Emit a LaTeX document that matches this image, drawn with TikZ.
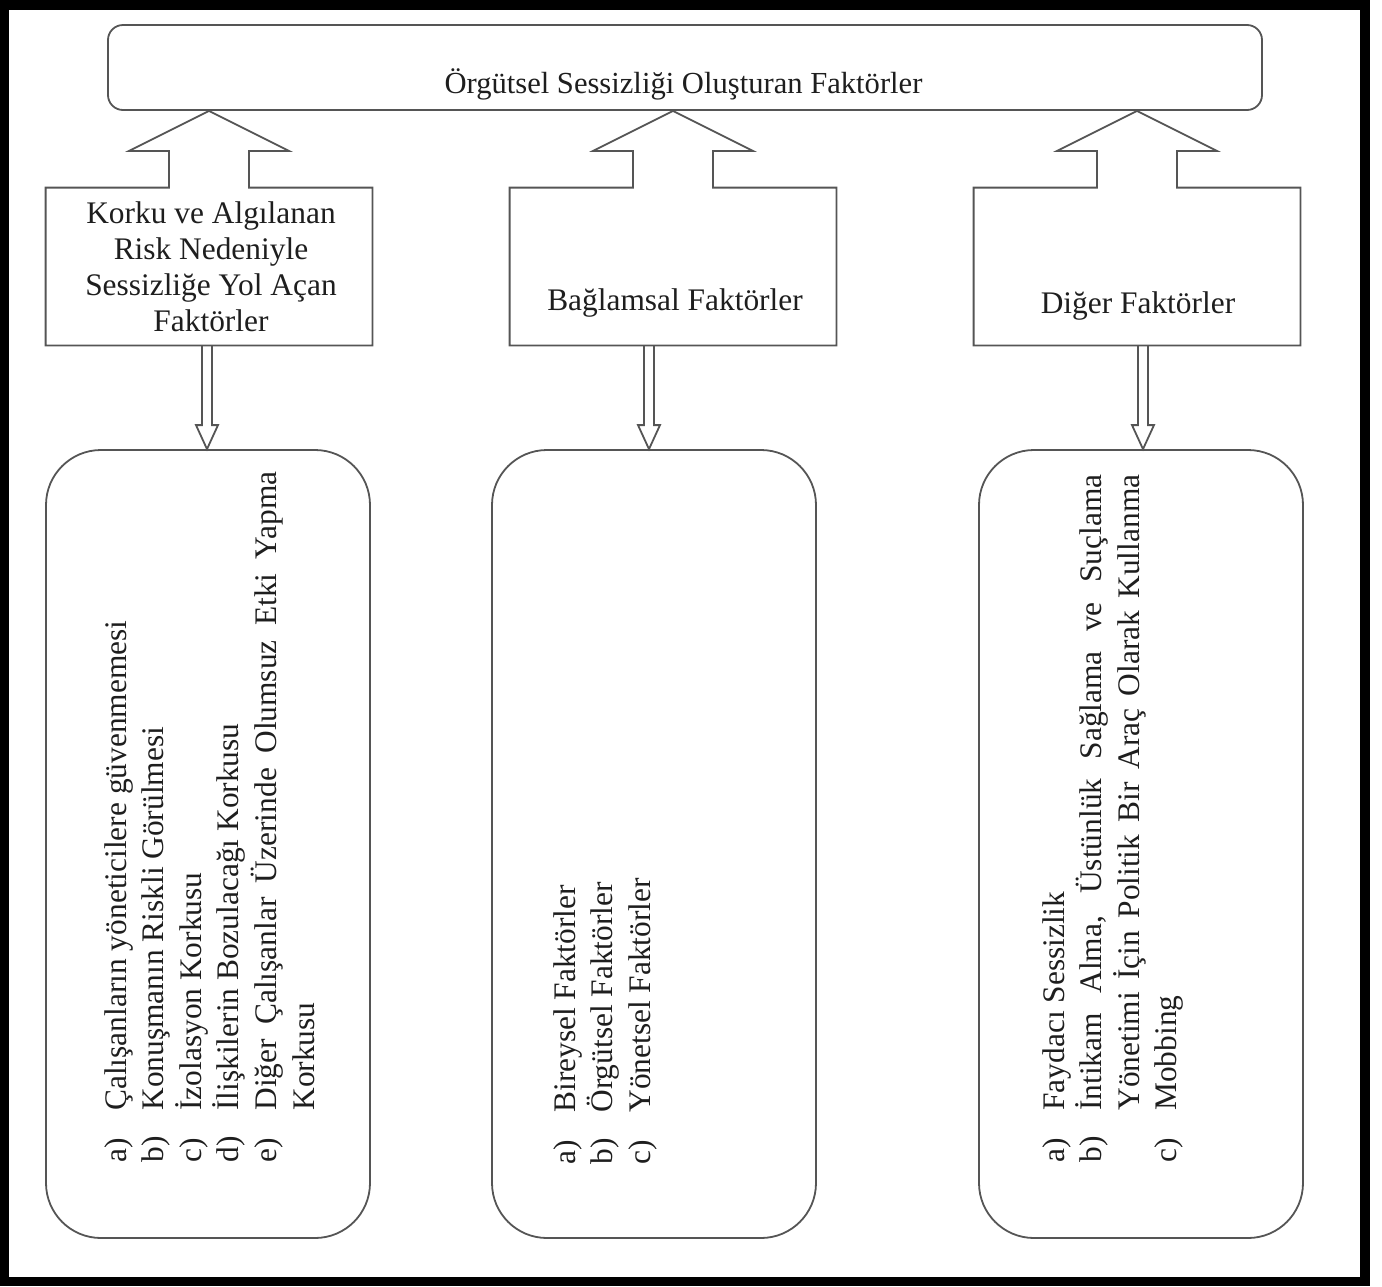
\documentclass[tikz,border=0pt]{standalone}
\usepackage{fontspec}
\setmainfont{Liberation Serif}
\usetikzlibrary{calc}
\definecolor{linegray}{RGB}{85,85,85}
\definecolor{txt}{RGB}{30,30,30}
\tikzset{
  conn/.style={draw=linegray, line width=0.9pt, line join=miter},
  topbox/.style={draw=linegray, line width=0.9pt, rounded corners=7.5pt, minimum width=577pt, minimum height=42.5pt, inner sep=0pt},
  catbox/.style={minimum width=163pt, minimum height=78.5pt, inner sep=0pt},
  listbox/.style={draw=linegray, line width=0.9pt, rounded corners=27.5pt, minimum width=162pt, minimum height=394pt, inner sep=0pt},
  boxtext/.style={text=txt, font=\fontsize{15.7}{18}\selectfont, inner sep=0pt, align=center},
  titletext/.style={text=txt, font=\fontsize{15.3}{18}\selectfont, inner sep=0pt},
  listtext/.style={text=txt, rotate=90, anchor=base west, inner sep=0pt, font=\fontsize{15.7}{18.8}\selectfont},
  frame/.style={draw=black, line width=4.6pt},
}
\newcommand{\itm}[2]{\noindent\hangindent=26pt\hangafter=1\makebox[26pt][l]{#1}#2\par}
\begin{document}
\begin{tikzpicture}[x=0.5pt,y=-0.5pt]
\useasboundingbox (0,0) rectangle (1382,1286);
\draw[frame] (4.5,5) rectangle (1365,1281.5);

% title
\node[topbox] (title) at (685,67.5) {};
\node[titletext, anchor=base] (titlelbl) at (683.5,93) {Örgütsel Sessizliği Oluşturan Faktörler};

% category boxes
\node[catbox] (kbox) at (209,266.5) {};
\node[catbox] (bbox) at (673,266.5) {};
\node[catbox] (dbox) at (1137,266.5) {};

\foreach \b in {kbox,bbox,dbox}{
  \draw[conn] let \p1=(\b.north), \p2=(title.south) in
    (\b.north east) -- (\b.south east) -- (\b.south west) -- (\b.north west)
    -- (\x1-20pt,\y1) -- (\x1-20pt,\y2-20pt) -- (\x1-40pt,\y2-20pt) -- (\x1,\y2)
    -- (\x1+40pt,\y2-20pt) -- (\x1+20pt,\y2-20pt) -- (\x1+20pt,\y1) -- cycle;
}

\node[boxtext] (ktext) at (211,267) {Korku ve Algılanan\\Risk Nedeniyle\\Sessizliğe Yol Açan\\Faktörler};
\node[boxtext, anchor=base] (btext) at (675,310) {Bağlamsal Faktörler};
\node[boxtext, anchor=base] (dtext) at (1138,313) {Diğer Faktörler};

% list boxes
\node[listbox] (klist) at (208,844) {};
\node[listbox] (blist) at (654,844) {};
\node[listbox] (dlist) at (1141,844) {};

% down arrows
\foreach \u/\l/\o in {kbox/klist/-1,bbox/blist/-5,dbox/dlist/2}{
  \draw[conn] let \p1=($(\l.north)+(\o,0)$), \p2=(\u.south) in
    (\x1-2.5pt,\y2) -- (\x1-2.5pt,\y1+12pt) -- (\x1-5.5pt,\y1+12pt) -- (\x1,\y1)
    -- (\x1+5.5pt,\y1+12pt) -- (\x1+2.5pt,\y1+12pt) -- (\x1+2.5pt,\y2);
}

% list texts
\node[listtext] (kitems) at (126,1163) {\parbox[t]{345.5pt}{\tolerance=10000
\itm{a)}{Çalışanların yöneticilere güvenmemesi}
\itm{b)}{Konuşmanın Riskli Görülmesi}
\itm{c)}{İzolasyon Korkusu}
\itm{d)}{İlişkilerin Bozulacağı Korkusu}
\itm{e)}{Diğer Çalışanlar Üzerinde Olumsuz Etki Yapma\linebreak Korkusu}}};

\node[listtext] (bitems) at (575,1165) {\parbox[t]{340pt}{\tolerance=10000
\itm{a)}{Bireysel Faktörler}
\itm{b)}{Örgütsel Faktörler}
\itm{c)}{Yönetsel Faktörler}}};

\node[listtext] (ditems) at (1064,1163) {\parbox[t]{344pt}{\tolerance=10000
\itm{a)}{Faydacı Sessizlik}
{\parfillskip=0pt \itm{b)}{İntikam Alma, Üstünlük Sağlama ve Suçlama\linebreak Yönetimi İçin Politik Bir Araç Olarak Kullanma}}
\itm{c)}{Mobbing}}};
\end{tikzpicture}
\end{document}
